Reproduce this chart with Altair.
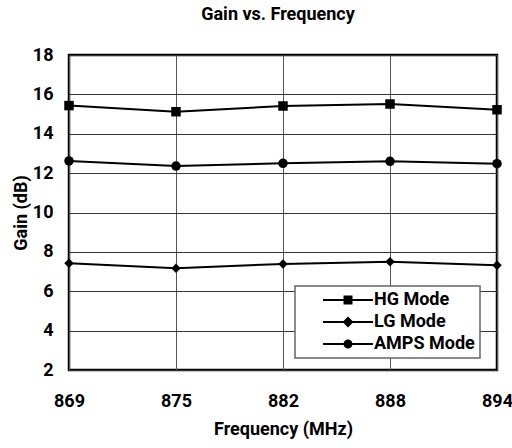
import altair as alt
import pandas as pd

freq = ["869", "875", "882", "888", "894"]
modes = ["HG Mode", "LG Mode", "AMPS Mode"]
hg = [15.43, 15.12, 15.41, 15.51, 15.22]
lg = [7.42, 7.17, 7.39, 7.50, 7.32]
amps = [12.62, 12.36, 12.50, 12.60, 12.48]
y_ticks = [2, 4, 6, 8, 10, 12, 14, 16, 18]

rows = []
for m, vals in zip(modes, [hg, lg, amps]):
    for f, v in zip(freq, vals):
        rows.append({"freq": f, "gain": v, "mode": m})
df = pd.DataFrame(rows)

FONT = "Liberation Sans Narrow, Arial Narrow, Roboto, sans-serif"

x = alt.X("freq:O", sort=freq, scale=alt.Scale(type="point", padding=0),
          axis=alt.Axis(title="Frequency (MHz)", labelAngle=0, labelPadding=22,
                        titlePadding=10, ticks=False, domain=False, grid=True,
                        gridColor="#555", gridWidth=1, gridOpacity=1))
y = alt.Y("gain:Q", scale=alt.Scale(domain=[2, 18], nice=False, zero=False),
          axis=alt.Axis(title="Gain (dB)", values=y_ticks, labelPadding=16,
                        titlePadding=2, ticks=False, domain=False, grid=True,
                        gridColor="#333", gridWidth=1, gridOpacity=1))

base = alt.Chart(df)

lines = base.mark_line(color="black", strokeWidth=2).encode(x=x, y=y, detail="mode:N")

points = base.mark_point(filled=True, color="black", opacity=1, size=90).encode(
    x=x, y=y,
    shape=alt.Shape("mode:N", scale=alt.Scale(domain=modes, range=["square", "diamond", "circle"]),
                    legend=None),
)

# legend glyphs: a filled bar (line) with the marker on top, all filled shapes
ln = "M-4,-0.16H4V0.16H-4Z"
sq = "M-0.72,-0.72H0.72V0.72H-0.72Z"
dm = "M-0.88,0L0,-0.88L0.88,0L0,0.88Z"
ci = "M-0.72,0A0.72,0.72,0,1,1,0.72,0A0.72,0.72,0,1,1,-0.72,0Z"
legend_paths = [ln + sq, ln + dm, ln + ci]

legend_layer = base.mark_point(filled=True, color="black", opacity=0, size=156).encode(
    x=x, y=y,
    shape=alt.Shape("mode:N", scale=alt.Scale(domain=modes, range=legend_paths),
                    legend=alt.Legend(
                        title=None, orient="none", legendX=226, legendY=231,
                        padding=5, symbolOffset=39, labelOffset=17,
                        rowPadding=4, symbolOpacity=1, symbolSize=156,
                        symbolFillColor="black", symbolStrokeColor="black",
                        symbolStrokeWidth=0, labelFont=FONT, labelFontSize=18,
                        labelFontWeight="bold", labelColor="black",
                        labelExpr="datum.label + '      '",
                        strokeColor="#666", fillColor="white")),
)

chart = alt.layer(lines, points, legend_layer).resolve_scale(shape="independent").properties(
    width=428, height=315,
    autosize=alt.AutoSizeParams(type="none"),
    padding={"left": 69, "top": 55, "right": 15, "bottom": 78},
    title=alt.TitleParams("Gain vs. Frequency", font=FONT, fontSize=18, fontWeight="bold",
                          color="black", offset=22, dx=-5),
    background="white",
).configure_view(stroke="black", strokeWidth=2.5).configure_axis(
    labelFont=FONT, labelFontSize=18, labelFontWeight="bold", labelColor="black",
    titleFont=FONT, titleFontSize=18, titleFontWeight="bold", titleColor="black",
).configure_legend(strokeWidth=1.5)

chart.save("out.html", embed_options={"renderer": "svg", "actions": False})
